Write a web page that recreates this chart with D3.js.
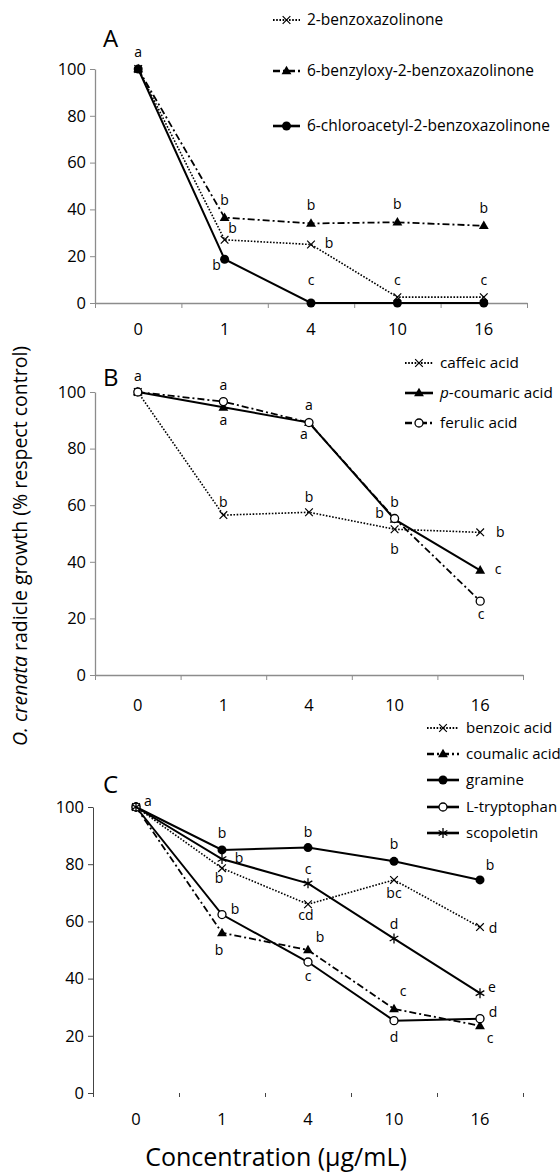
<!DOCTYPE html>
<html>
<head>
<meta charset="utf-8">
<script src="https://cdn.jsdelivr.net/npm/d3@7"></script>
<style>
  body { margin: 0; background: #fff; }
  svg { display: block; font-family: "Open Sans", "Noto Sans", sans-serif; }
</style>
</head>
<body>
<div id="chart"></div>
<script>
// concentrations on the x axis and y ticks (shared by the three panels)
var concentrations = ["0", "1", "4", "10", "16"];
var yTicks = [0, 20, 40, 60, 80, 100];

// panel A - benzoxazolinones
var namesA = ["2-benzoxazolinone", "6-benzyloxy-2-benzoxazolinone", "6-chloroacetyl-2-benzoxazolinone"];
var benzoxazolinone = [100, 27, 25, 2.5, 2.5];
var benzyloxy = [100, 36.5, 34, 34.5, 33];
var chloroacetyl = [100, 18.7, 0, 0, 0];
var lettersBenzox = ["", "b", "b", "c", "c"];
var lettersBenzyl = ["a", "b", "b", "b", "b"];
var lettersChloro = ["", "b", "c", "", ""];

// panel B - cinnamic acids
var namesB = ["caffeic acid", "p-coumaric acid", "ferulic acid"];
var caffeic = [100, 56.5, 57.5, 51.5, 50.4];
var coumaric = [100, 94.6, 89.2, 55, 37];
var ferulic = [100, 96.6, 89.2, 55.3, 26.1];
var lettersCaffeic = ["", "b", "b", "b", "b"];
var lettersCoumaric = ["", "a", "a", "b", "c"];
var lettersFerulic = ["a", "a", "a", "b", "c"];

// panel C - other compounds
var namesC = ["benzoic acid", "coumalic acid", "gramine", "L-tryptophan", "scopoletin"];
var benzoic = [100, 78.6, 66, 74.5, 58];
var coumalic = [100, 56, 50, 29.4, 23.5];
var gramine = [100, 85, 85.8, 81, 74.5];
var tryptophan = [100, 62.4, 45.8, 25.3, 26];
var scopoletin = [100, 81.8, 73.3, 54, 34.9];
var lettersBenzoic = ["", "b", "cd", "bc", "d"];
var lettersCoumalic = ["", "b", "b", "c", "c"];
var lettersGramine = ["", "b", "b", "b", "b"];
var lettersTrypto = ["a", "b", "c", "d", "d"];
var lettersScopo = ["", "b", "c", "d", "e"];

// line styles
var styles = {
  dotted:  {dash: "1.6,1.6", width: 1.6},
  dashdot: {dash: "7,3,2,3", width: 1.8},
  solid:   {dash: null, width: 2}
};

var width = 560, height = 1174;
var svg = d3.select("#chart").append("svg")
  .attr("width", width).attr("height", height);

// label offsets (dx, dy of the baseline from the point) per series
var panels = [
  {
    letter: "A", letterPos: [103, 47],
    xRange: [95, 527], yRange: [303, 69], axisColor: "#8c8c8c", xLine: true, tickLabelY: 329,
    legendX: 273, legendW: 27, legendRows: [20, 71, 126], legendSize: 15.5,
    series: [
      {name: namesA[0], values: benzoxazolinone, letters: lettersBenzox, style: "dotted", marker: "x",
       off: [[0,0],[8,-7],[18,3],[0,-12],[0,-12]]},
      {name: namesA[1], values: benzyloxy, letters: lettersBenzyl, style: "dashdot", marker: "tri",
       off: [[0,-12],[0,-13],[0,-13],[0,-13],[0,-13]]},
      {name: namesA[2], values: chloroacetyl, letters: lettersChloro, style: "solid", marker: "dot",
       off: [[0,0],[-8,11],[0,-18],[0,0],[0,0]]}
    ]
  },
  {
    letter: "B", letterPos: [103, 386],
    xRange: [95, 523], yRange: [675, 392], axisColor: "#8c8c8c", xLine: true, tickLabelY: 705,
    legendX: 405, legendW: 28, legendRows: [363, 393, 423], legendSize: 15.3,
    series: [
      {name: namesB[0], values: caffeic, letters: lettersCaffeic, style: "dotted", marker: "x",
       off: [[0,0],[0,-8],[0,-10],[0,25],[20,5]]},
      {name: namesB[1], values: coumaric, letters: lettersCoumaric, style: "solid", marker: "tri",
       off: [[0,0],[0,18],[-5,16],[-15,-1],[18,4]]},
      {name: namesB[2], values: ferulic, letters: lettersFerulic, style: "dashdot", marker: "open",
       off: [[0,-11],[0,-12],[0,-13],[0,-12],[1,18]]}
    ]
  },
  {
    letter: "C", letterPos: [103, 793],
    xRange: [93, 523], yRange: [1093, 807], axisColor: "#444", xLine: false, tickLabelY: 1119,
    legendX: 427, legendW: 32, legendRows: [728, 754, 780, 807, 833], legendSize: 15,
    series: [
      {name: namesC[0], values: benzoic, letters: lettersBenzoic, style: "dotted", marker: "x",
       off: [[0,0],[-3,15],[-2,16],[0,18],[13,6]]},
      {name: namesC[1], values: coumalic, letters: lettersCoumalic, style: "dashdot", marker: "tri",
       off: [[0,0],[-3,22],[12,-8],[9,-13],[10,17]]},
      {name: namesC[2], values: gramine, letters: lettersGramine, style: "solid", marker: "dot",
       off: [[0,0],[0,-12],[0,-11],[0,-12],[10,-10]]},
      {name: namesC[3], values: tryptophan, letters: lettersTrypto, style: "solid", marker: "open",
       off: [[12,-1],[13,-1],[0,19],[0,21],[13,-2]]},
      {name: namesC[4], values: scopoletin, letters: lettersScopo, style: "solid", marker: "star",
       off: [[0,0],[17,4],[0,-9],[0,-10],[12,-1]]}
    ]
  }
];

function drawMarker(g, type, x, y) {
  if (type === "dot") {
    g.append("circle").attr("cx", x).attr("cy", y).attr("r", 4.5).attr("fill", "#000");
  } else if (type === "open") {
    g.append("circle").attr("cx", x).attr("cy", y).attr("r", 4)
      .attr("fill", "#fff").attr("stroke", "#000").attr("stroke-width", 1.3);
  } else if (type === "tri") {
    g.append("path").attr("transform", "translate(" + x + "," + (y + 0.5) + ")")
      .attr("d", d3.symbol(d3.symbolTriangle, 42)()).attr("fill", "#000");
  } else if (type === "x") {
    g.append("path").attr("transform", "translate(" + x + "," + y + ")")
      .attr("d", d3.symbol(d3.symbolX, 40)())
      .attr("fill", "none").attr("stroke", "#000").attr("stroke-width", 1.2);
  } else if (type === "star") {
    g.append("path").attr("transform", "translate(" + x + "," + y + ")")
      .attr("d", d3.symbol(d3.symbolAsterisk, 70)())
      .attr("fill", "none").attr("stroke", "#000").attr("stroke-width", 1.3);
  }
}

panels.forEach(function (p) {
  var g = svg.append("g");

  var xScale = d3.scaleBand().domain(concentrations).range(p.xRange);
  var yScale = d3.scaleLinear().domain([0, 100]).range(p.yRange);
  // band boundaries for the x ticks
  var edge = d3.scaleLinear().domain([0, concentrations.length]).range(p.xRange);

  // y axis
  var yAxis = g.append("g")
    .attr("transform", "translate(" + p.xRange[0] + ",0)")
    .call(d3.axisLeft(yScale).tickValues(yTicks).tickSize(5).tickSizeOuter(0).tickPadding(4));
  yAxis.select(".domain").attr("stroke", p.axisColor).attr("stroke-width", p.xLine ? 1.3 : 1);
  yAxis.selectAll(".tick line").attr("stroke", p.axisColor);
  yAxis.selectAll(".tick text").attr("font-size", 16.5).attr("fill", "#000")
    .attr("font-family", "\"Open Sans\", sans-serif");

  // x tick marks at band edges
  var xTicks = g.append("g")
    .attr("transform", "translate(0," + p.yRange[0] + ")")
    .call(d3.axisBottom(edge).tickValues(d3.range(concentrations.length + 1))
      .tickFormat("").tickSize(p.xLine ? 5 : 4).tickSizeOuter(0));
  xTicks.selectAll(".tick line").attr("stroke", p.axisColor);
  if (p.xLine) xTicks.select(".domain").attr("stroke", p.axisColor).attr("stroke-width", 1.3);
  else xTicks.select(".domain").remove();

  // x tick labels at band centres
  var xLab = g.append("g")
    .attr("transform", "translate(0," + p.yRange[0] + ")")
    .call(d3.axisBottom(xScale).tickSize(0).tickPadding(p.tickLabelY - p.yRange[0] - 6));
  xLab.select(".domain").remove();
  xLab.selectAll(".tick text").attr("font-size", 16.5).attr("fill", "#000")
    .attr("font-family", "\"Open Sans\", sans-serif");

  // panel letter
  g.append("text").attr("x", p.letterPos[0]).attr("y", p.letterPos[1])
    .attr("font-size", 24).attr("fill", "#000").text(p.letter);

  var cx = function (i) { return xScale(concentrations[i]) + xScale.bandwidth() / 2; };
  var line = d3.line()
    .x(function (d, i) { return cx(i); })
    .y(function (d) { return yScale(d); });

  p.series.forEach(function (s) {
    var st = styles[s.style];
    g.append("path").datum(s.values)
      .attr("d", line).attr("fill", "none").attr("stroke", "#000")
      .attr("stroke-width", st.width).attr("stroke-dasharray", st.dash);
    s.values.forEach(function (v, i) { drawMarker(g, s.marker, cx(i), yScale(v)); });
    s.values.forEach(function (v, i) {
      if (!s.letters[i]) return;
      g.append("text")
        .attr("x", cx(i) + s.off[i][0]).attr("y", yScale(v) + s.off[i][1])
        .attr("text-anchor", "middle").attr("font-size", 14).attr("fill", "#000")
        .text(s.letters[i]);
    });
  });

  // legend
  p.series.forEach(function (s, k) {
    var st = styles[s.style];
    var ly = p.legendRows[k];
    var lg = g.append("g");
    lg.append("line").attr("x1", p.legendX).attr("x2", p.legendX + p.legendW)
      .attr("y1", ly).attr("y2", ly).attr("stroke", "#000")
      .attr("stroke-width", st.width + 0.6).attr("stroke-dasharray", st.dash);
    drawMarker(lg, s.marker, p.legendX + p.legendW / 2, ly);
    var t = lg.append("text").attr("x", p.legendX + p.legendW + 7).attr("y", ly + 5)
      .attr("font-size", p.legendSize).attr("fill", "#000");
    if (s.name.indexOf("p-") === 0) {
      t.append("tspan").attr("font-style", "italic").text("p");
      t.append("tspan").text(s.name.slice(1));
    } else {
      t.text(s.name);
    }
  });
});

// shared axis titles
var yTitle = svg.append("text")
  .attr("transform", "translate(27,546) rotate(-90)")
  .attr("text-anchor", "middle").attr("font-size", 19.5).attr("fill", "#000");
yTitle.append("tspan").attr("font-style", "italic").text("O. crenata");
yTitle.append("tspan").text(" radicle growth (% respect control)");

svg.append("text").attr("x", 276).attr("y", 1166)
  .attr("text-anchor", "middle").attr("font-size", 25).attr("fill", "#000")
  .text("Concentration (\u00b5g/mL)");
</script>
</body>
</html>
